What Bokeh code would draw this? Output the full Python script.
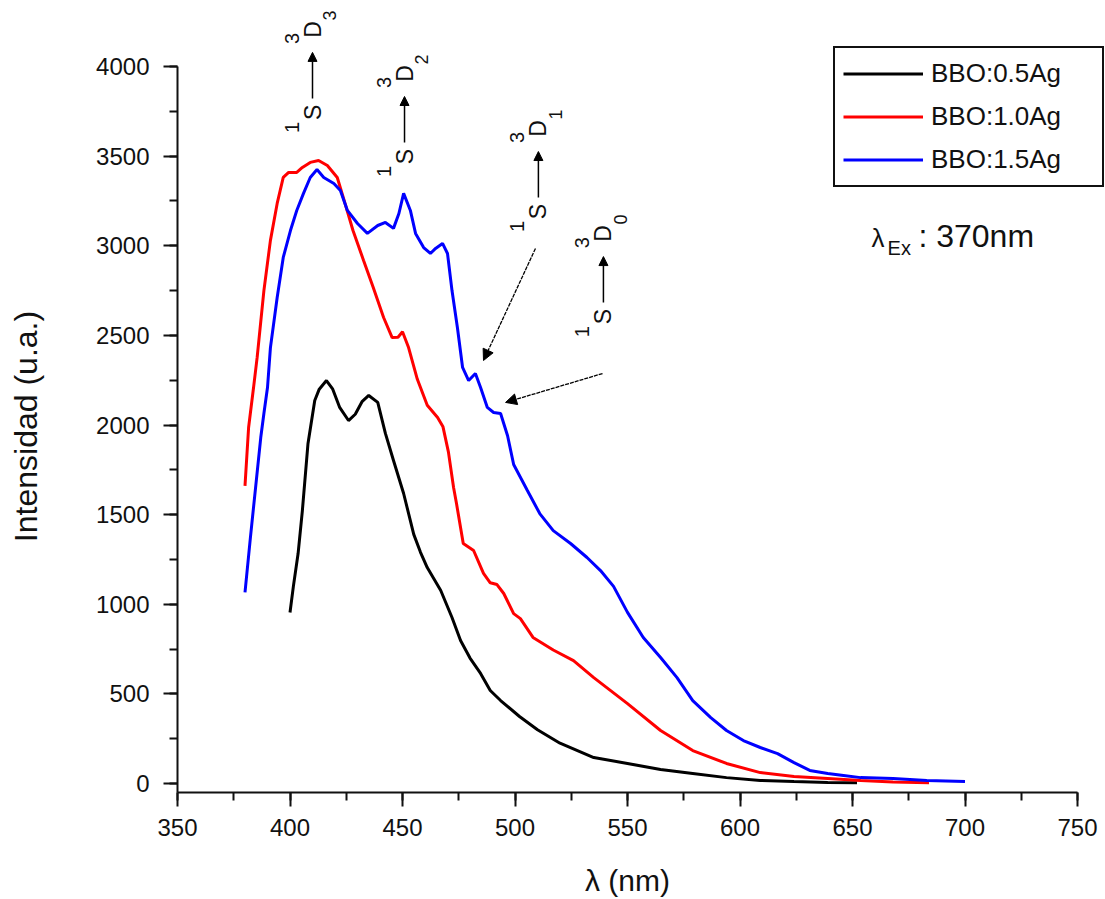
import math

from bokeh.embed import file_html
from bokeh.models import Arrow, Label, NormalHead, Range1d, SingleIntervalTicker
from bokeh.plotting import figure
from bokeh.resources import INLINE

# Emission spectra (excitation 370 nm)
wl_05 = [400, 401.5, 403.6, 405.5, 408, 411, 413, 416.2, 419, 422, 426, 429, 432, 435, 439,
         442.4, 446, 450.5, 455, 458, 461, 467, 472, 475.8, 480, 484.7, 489, 493.6, 502, 510,
         520, 535, 550, 564.7, 579, 594, 609, 624, 639, 652]
int_05 = [954, 1100, 1283, 1523, 1897, 2137, 2200, 2248, 2200, 2100, 2025, 2060, 2130, 2165, 2126,
          1953, 1802, 1618, 1390, 1290, 1205, 1077, 926, 798, 700, 614, 519, 463, 374, 300,
          225, 145, 112, 78, 56, 33, 17, 11, 6, 5]

wl_10 = [380, 381.6, 383.8, 385.4, 388.4, 391.3, 394.3, 397, 399.4, 403, 405.5, 409, 412.7, 416.6,
         421, 423.8, 428, 432.7, 437, 441.6, 445.4, 448, 450, 452.7, 456.6, 461, 465.6, 468,
         470.4, 472.7, 474, 477, 481.6, 486, 489, 492, 495, 499.4, 502.4, 508, 517, 526, 535,
         550, 564.7, 579, 594, 609, 624, 639, 653.6, 668, 684]
int_10 = [1660, 1986, 2209, 2377, 2750, 3030, 3236, 3381, 3409, 3409, 3437, 3465, 3476, 3448,
          3381, 3264, 3085, 2918, 2767, 2600, 2488, 2490, 2520, 2432, 2255, 2110, 2042, 1990,
          1850, 1651, 1562, 1339, 1300, 1172, 1120, 1110, 1060, 948, 920, 815, 745, 686, 591,
          446, 296, 184, 112, 61, 39, 28, 17, 8, 5]

wl_15 = [380, 382.4, 384.7, 387, 388.4, 390, 391.3, 394.3, 397, 400.2, 403, 406, 409, 412, 415,
         419.5, 422.4, 425.5, 430, 434.4, 439, 442.4, 446, 448.4, 450.5, 453.5, 455.8, 459.4,
         462.4, 464.7, 467.8, 470, 472, 474.4, 476.7, 479.4, 482.4, 484.7, 487.7, 490.5, 493.6,
         496.7, 499.4, 505.5, 511, 517, 524.7, 532, 538, 543.8, 550, 557, 564.7, 572, 579, 587,
         594, 601.5, 609, 616.7, 624, 631, 639, 646, 653.6, 668, 683, 700]
int_15 = [1066, 1372, 1651, 1930, 2064, 2209, 2432, 2711, 2935, 3085, 3197, 3292, 3381, 3425, 3381,
          3347, 3308, 3197, 3124, 3069, 3113, 3130, 3097, 3180, 3292, 3197, 3069, 2990,
          2957, 2985, 3013, 2957, 2750, 2544, 2321, 2248, 2287, 2209, 2098, 2070, 2064,
          1940, 1780, 1635, 1506, 1411, 1339, 1261, 1188, 1100, 955, 815, 703, 591, 463, 368,
          296, 240, 201, 167, 117, 73, 56, 45, 33, 28, 17, 11]

series_names = ["BBO:0.5Ag", "BBO:1.0Ag", "BBO:1.5Ag"]
series_colors = ["#000000", "#ff0000", "#0000ff"]

# Ag+ 4d10 -> 4d9 5s transitions: arrow x (nm), "S" centre (counts), final J
trans_x = [410.0, 450.9, 510.4, 539.3]
trans_y = [3744, 3498, 3191, 2605]
trans_j = ["3", "2", "1", "0"]

# pointers to the 3D1 / 3D0 shoulders: (x_start, y_start, x_end, y_end)
pointers = [(509.1, 2985, 486.0, 2360), (538.9, 2287, 495.8, 2126)]

FONT = "Liberation Sans"
INK = "#111111"
W, H = 1105, 899
BL, BB = 177, 107                # where the axes cross, px from left / bottom
AX_W, AX_H = 900, 726            # drawn axes length in px
X0, X1 = 350, 750
Y0, Y1 = -50, 4000
ux = (X1 - X0) / AX_W            # nm per pixel
uy = (Y1 - Y0) / AX_H            # counts per pixel

# the frame covers the whole canvas; the axes are pinned at (X0, Y0) so the
# level labels, axis titles and legend can all live around them
p = figure(width=W, height=H,
           x_range=Range1d(X0 - BL * ux, X0 + (W - BL) * ux),
           y_range=Range1d(Y0 - BB * uy, Y0 + (H - BB) * uy),
           output_backend="svg", toolbar_location=None,
           min_border_left=0, min_border_right=0, min_border_top=0, min_border_bottom=0)
p.outline_line_color = None
p.grid.visible = False
p.background_fill_color = "white"
p.border_fill_color = "white"

p.xaxis.fixed_location = Y0
p.yaxis.fixed_location = X0
for ax, step, bounds in ((p.xaxis[0], 50, (X0, X1)), (p.yaxis[0], 500, (Y0, Y1))):
    ax.bounds = bounds
    ax.ticker = SingleIntervalTicker(interval=step, num_minor_ticks=2)
    ax.axis_line_width = 2
    ax.axis_line_color = INK
    ax.major_tick_line_width = 2
    ax.minor_tick_line_width = 2
    ax.major_tick_line_color = INK
    ax.minor_tick_line_color = INK
    ax.major_tick_in = 0
    ax.minor_tick_in = 0
    ax.major_tick_out = 14
    ax.minor_tick_out = 8
    ax.major_label_text_font = FONT
    ax.major_label_text_font_size = "24px"
    ax.major_label_text_color = INK
p.xaxis.major_label_standoff = 12
p.yaxis.major_label_standoff = 14

xs = [wl_05, wl_10, wl_15]
ys = [int_05, int_10, int_15]
for x, y, name, col in zip(xs, ys, series_names, series_colors):
    p.line(x, y, line_color=col, line_width=3, legend_label=name)

lg = p.legend[0]
lg.location = (833, H - 187)
lg.label_text_font = FONT
lg.label_text_font_size = "26px"
lg.label_text_color = INK
lg.glyph_width = 80
lg.glyph_height = 35
lg.label_height = 35
lg.label_width = 163
lg.label_standoff = 8
lg.spacing = 8
lg.padding = 8
lg.margin = 0
lg.border_line_color = INK
lg.border_line_alpha = 1
lg.border_line_width = 2
lg.background_fill_alpha = 1

# axis titles
p.add_layout(Label(x=X0 + 450 * ux, y=Y0 - 88 * uy, text="λ (nm)", text_align="center",
                   text_baseline="middle", text_font=FONT, text_font_size="30px",
                   text_color=INK))
p.add_layout(Label(x=X0 - 152 * ux, y=Y0 + 366 * uy, text="Intensidad (u.a.)",
                   angle=math.pi / 2, text_align="center", text_baseline="middle",
                   text_font=FONT, text_font_size="32px", text_color=INK))


def rot_label(x, y, text, size, dx=0, dy=0):
    p.add_layout(Label(x=x + dx * ux, y=y + dy * uy, text=text, angle=math.pi / 2,
                       text_align="center", text_baseline="middle",
                       text_font=FONT, text_font_size=size, text_color=INK))


for tx, ty, j in zip(trans_x, trans_y, trans_j):
    rot_label(tx, ty, "1", "20px", dx=-21, dy=-15)
    rot_label(tx, ty, "S", "23px")
    rot_label(tx, ty, "3", "20px", dx=-21, dy=74)
    rot_label(tx, ty, "D", "23px", dy=83)
    rot_label(tx, ty, j, "18px", dx=17, dy=97)
    p.add_layout(Arrow(x_start=tx, y_start=ty + 14 * uy, x_end=tx, y_end=ty + 60 * uy,
                       line_color="black", line_width=1.5,
                       end=NormalHead(size=9, fill_color="black", line_color="black")))

for xs0, ys0, xe, ye in pointers:
    p.add_layout(Arrow(x_start=xs0, y_start=ys0, x_end=xe, y_end=ye,
                       line_color="black", line_width=1.3, line_dash="4 1",
                       end=NormalHead(size=11, fill_color="black", line_color="black")))

# excitation wavelength note
p.add_layout(Label(x=658.4, y=3046, text="λ", text_font=FONT, text_font_size="26px",
                   text_color=INK, text_baseline="alphabetic"))
p.add_layout(Label(x=665.6, y=2990, text="Ex", text_font=FONT, text_font_size="20px",
                   text_color=INK, text_baseline="alphabetic"))
p.add_layout(Label(x=679.3, y=3052, text=": 370nm", text_font=FONT, text_font_size="32px",
                   text_color=INK, text_baseline="alphabetic"))

open("out.html", "w").write(file_html(p, INLINE))
